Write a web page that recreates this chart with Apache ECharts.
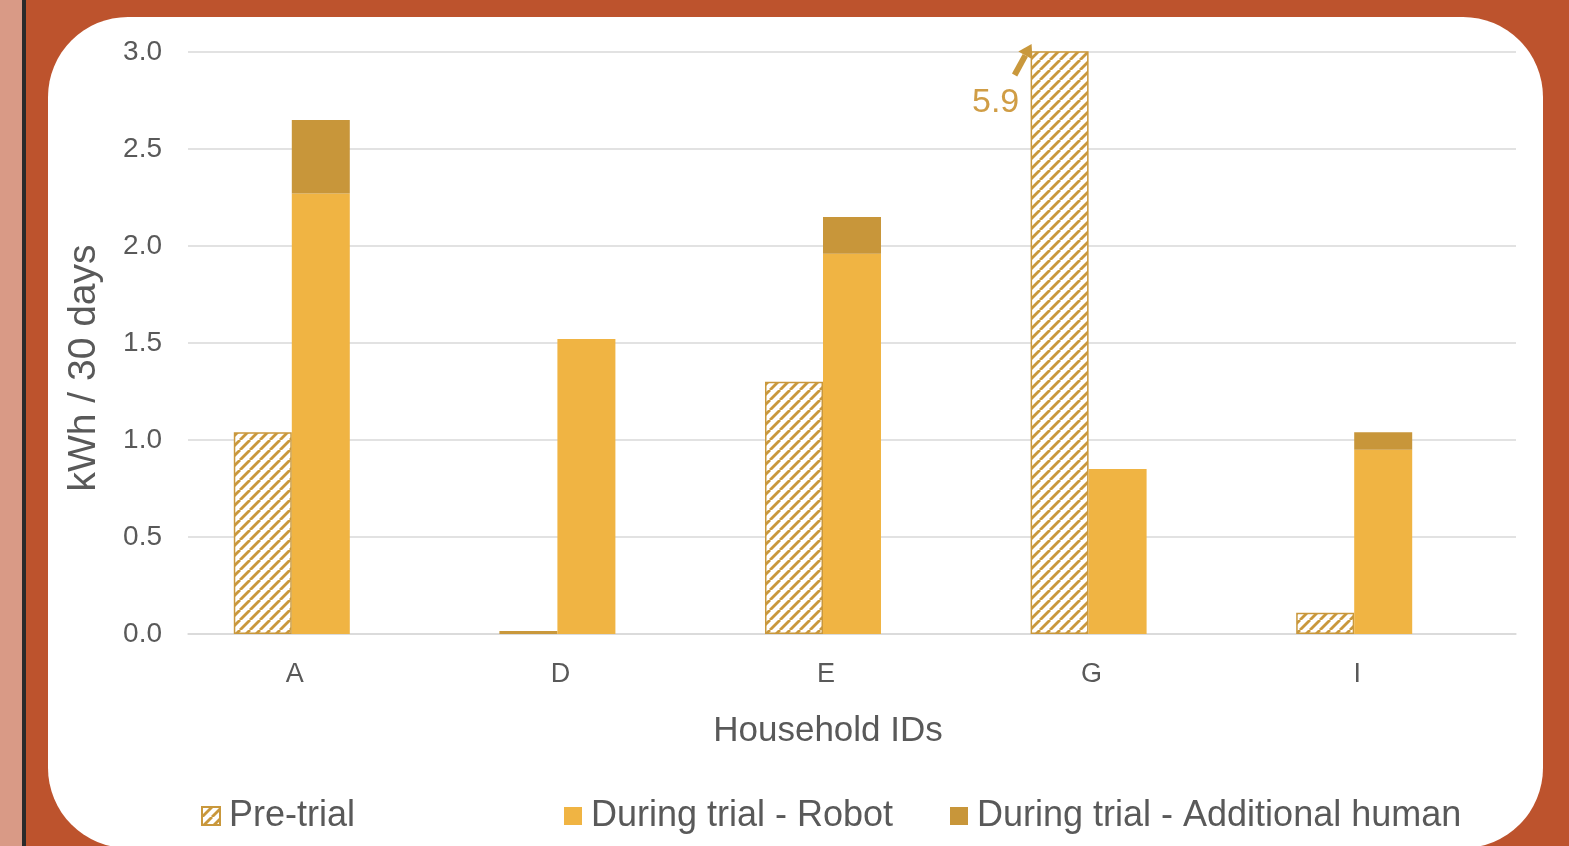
<!DOCTYPE html>
<html>
<head>
<meta charset="utf-8">
<script src="https://cdn.jsdelivr.net/npm/echarts@6/dist/echarts.min.js"></script>
<style>
  html, body { margin:0; padding:0; width:1569px; height:846px; overflow:hidden; background:#BD532D; }
  #strip { position:absolute; left:0; top:0; width:22px; height:846px; background:#D99A86; }
  #bar { position:absolute; left:22px; top:0; width:4px; height:846px; background:#2A2A2A; }
  #card { position:absolute; left:48px; top:17px; width:1495px; height:831px; background:#fff; border-radius:80px; }
  #chart { position:absolute; left:0; top:0; width:1569px; height:846px; }
</style>
</head>
<body>
<div id="strip"></div>
<div id="bar"></div>
<div id="card"></div>
<div id="chart"></div>
<script>
const categories = ['A', 'D', 'E', 'G', 'I'];
const preTrial = [1.04, 0.015, 1.30, 5.9, 0.11];
const duringRobot = [2.27, 1.52, 1.96, 0.85, 0.95];
const duringHuman = [0.38, 0, 0.19, 0, 0.09];
const spacer = [0, 0, 0, 0, 0];
const annotationLabel = '5.9';

const GOLD = '#C9983C';
const FONT = "'Liberation Sans', Arial, Helvetica, sans-serif";
const TXT = '#595959';
const BW = 58;

function makeHatch() {
  const s = 10;
  const c = document.createElement('canvas');
  c.width = s; c.height = s;
  const ctx = c.getContext('2d');
  ctx.fillStyle = '#ffffff';
  ctx.fillRect(0, 0, s, s);
  ctx.strokeStyle = GOLD;
  ctx.lineWidth = 2.8;
  for (let k = -1; k <= 1; k++) {
    ctx.beginPath();
    ctx.moveTo(k * s, s);
    ctx.lineTo(k * s + s, 0);
    ctx.stroke();
  }
  return c;
}

const chart = echarts.init(document.getElementById('chart'), null, { renderer: 'canvas' });
const hatch = { image: makeHatch(), repeat: 'repeat' };

function legendAt(left, name) {
  return {
    left: left, top: 798, orient: 'horizontal', padding: 0,
    itemWidth: 18, itemHeight: 18, icon: 'rect',
    data: [name],
    textStyle: { fontFamily: FONT, fontSize: 36, color: TXT, padding: [0, 0, 0, 4] },
    selectedMode: false
  };
}

const option = {
  backgroundColor: 'transparent',
  animation: false,
  textStyle: { fontFamily: FONT },
  grid: { left: 188, right: 1569 - 1516, top: 52, bottom: 846 - 634, containLabel: false },
  legend: [
    legendAt(201, 'Pre-trial'),
    legendAt(564, 'During trial - Robot'),
    legendAt(950, 'During trial - Additional human')
  ],
  xAxis: {
    type: 'category',
    data: categories,
    axisLine: { show: true, lineStyle: { color: '#D9D9D9', width: 1.5 } },
    axisTick: { show: false },
    axisLabel: { fontFamily: FONT, fontSize: 27, color: TXT, margin: 27, padding: [0, 52, 0, 0] },
    name: 'Household IDs',
    nameLocation: 'middle',
    nameGap: 80,
    nameTextStyle: { fontFamily: FONT, fontSize: 35, color: TXT, padding: [0, 48, 0, 0] }
  },
  yAxis: {
    type: 'value',
    min: 0, max: 3, interval: 0.5,
    axisLine: { show: false },
    axisTick: { show: false },
    splitLine: { lineStyle: { color: '#D9D9D9', width: 1.5 } },
    axisLabel: { fontFamily: FONT, fontSize: 28, color: TXT, margin: 26, formatter: v => v.toFixed(1) },
    name: 'kWh / 30 days',
    nameLocation: 'middle',
    nameRotate: 90,
    nameGap: 84,
    nameTextStyle: { fontFamily: FONT, fontSize: 39, color: TXT, padding: [0, 50, 0, 0] }
  },
  series: [
    {
      name: 'Pre-trial', type: 'bar', stack: 'pre', barWidth: BW, barGap: '0%',
      data: preTrial, clip: true,
      itemStyle: { color: hatch, borderColor: GOLD, borderWidth: 1.5 }
    },
    {
      name: 'During trial - Robot', type: 'bar', stack: 'during', barWidth: BW, barGap: '0%',
      data: duringRobot,
      itemStyle: { color: '#F0B443' }
    },
    {
      name: 'During trial - Additional human', type: 'bar', stack: 'during', barWidth: BW, barGap: '0%',
      data: duringHuman,
      itemStyle: { color: '#C8963A' }
    },
    {
      name: '_spacer', type: 'bar', stack: 'spacer', barWidth: BW, barGap: '0%',
      data: spacer, silent: true,
      itemStyle: { color: 'rgba(0,0,0,0)' }
    }
  ]
};

chart.setOption(option);

// annotation for clipped bar G
const gi = preTrial.indexOf(Math.max(...preTrial));
const p = chart.convertToPixel({ seriesIndex: 0 }, [categories[gi], 3]);
const barLeft = p[0] - 1.5 * BW;
const tip = [barLeft + 1, p[1] - 8];
const tail = [tip[0] - 17, tip[1] + 31];
const dx = tip[0] - tail[0], dy = tip[1] - tail[1];
const len = Math.sqrt(dx * dx + dy * dy);
const u = [dx / len, dy / len];
const n = [-u[1], u[0]];
const hb = [tip[0] - 13 * u[0], tip[1] - 13 * u[1]];
chart.setOption({
  graphic: [
    {
      type: 'line', z: 100,
      shape: { x1: tail[0], y1: tail[1], x2: hb[0], y2: hb[1] },
      style: { stroke: GOLD, lineWidth: 6 }
    },
    {
      type: 'polygon', z: 100,
      shape: { points: [tip, [hb[0] + 8 * n[0], hb[1] + 8 * n[1]], [hb[0] - 8 * n[0], hb[1] - 8 * n[1]]] },
      style: { fill: GOLD }
    },
    {
      type: 'text', z: 100,
      x: tip[0] - 36, y: tip[1] + 59,
      style: { text: annotationLabel, font: '34px ' + FONT, fill: '#D09D45', align: 'center', verticalAlign: 'middle' }
    }
  ]
});
</script>
</body>
</html>
